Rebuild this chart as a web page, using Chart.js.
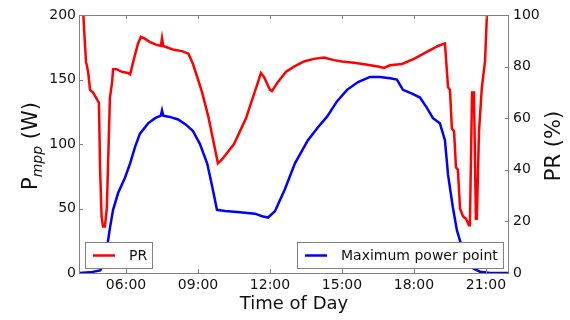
<!DOCTYPE html>
<html>
<head>
<meta charset="utf-8">
<script src="https://cdn.jsdelivr.net/npm/chart.js@4/dist/chart.umd.min.js"></script>
<style>
  html, body { margin: 0; padding: 0; background: #fff; }
  #wrap { width: 570px; height: 320px; }
</style>
</head>
<body>
<div id="wrap"><canvas id="chart"></canvas></div>
<script>
// time of day in decimal hours
const mppHours = [4.04, 4.5, 4.92, 5.04, 5.21, 5.33, 5.46, 5.67, 5.96, 6.17, 6.38, 6.58, 6.92, 7.21, 7.45, 7.5, 7.55, 7.83, 8.17, 8.5, 8.79, 9.08, 9.38, 9.58, 9.79, 10.12, 10.75, 11.37, 11.67, 11.92, 12.21, 12.62, 13.04, 13.58, 14.0, 14.37, 14.79, 15.21, 15.67, 16.17, 16.58, 17.0, 17.29, 17.54, 17.92, 18.25, 18.54, 18.79, 19.08, 19.29, 19.42, 19.62, 19.79, 20.0, 20.21, 20.42, 20.75, 21.17, 21.96];
const mppWatts = [0, 0.5, 2, 6, 20, 35, 49, 62, 74, 85, 98, 108, 116, 120, 122, 126, 122, 121, 119, 115, 110, 100, 85, 68, 49, 48, 47, 46, 44, 43, 48, 65, 85, 103, 113, 121, 133, 142, 148, 152, 152, 151, 150, 142, 139, 136, 128, 120, 116, 103, 76, 51, 33, 20, 10, 4, 1, 0, 0];

const prHours = [4.17, 4.25, 4.33, 4.42, 4.5, 4.62, 4.75, 4.87, 4.92, 4.98, 5.04, 5.12, 5.2, 5.29, 5.33, 5.42, 5.46, 5.6, 5.83, 6.08, 6.17, 6.33, 6.5, 6.62, 6.75, 7.0, 7.25, 7.45, 7.5, 7.55, 8.0, 8.33, 8.6, 8.79, 9.0, 9.17, 9.42, 9.62, 9.83, 10.0, 10.25, 10.5, 10.75, 11.0, 11.25, 11.5, 11.62, 11.75, 12.0, 12.08, 12.33, 12.67, 13.0, 13.42, 13.83, 14.25, 14.67, 15.0, 15.5, 16.0, 16.5, 16.75, 17.0, 17.5, 18.0, 18.5, 19.0, 19.29, 19.42, 19.5, 19.58, 19.67, 19.75, 19.83, 19.92, 20.04, 20.17, 20.29, 20.33, 20.42, 20.5, 20.58, 20.62, 20.71, 20.83, 20.96, 21.04, 21.12];
const prPercent = [110, 95, 82, 78, 71, 70, 68, 66, 40, 22, 18, 18, 25, 55, 68, 74, 79, 79, 78, 77.5, 77, 83, 89, 91.5, 91, 89.5, 88.5, 88, 91, 88, 86.5, 86, 85, 81, 75, 70, 61, 52, 42.5, 44, 47, 50, 55, 60, 67, 74, 77.5, 76, 71, 70.5, 74, 78, 80, 82, 83, 83.5, 82.5, 82, 81.5, 80.8, 80, 79.5, 80.5, 81, 83, 85.5, 88, 89, 72, 71, 56, 55, 41, 40, 25, 22, 21, 18.5, 18.5, 70, 70, 21, 21, 55, 72, 82, 100, 110];

const timeTicks = [6, 9, 12, 15, 18, 21];
const wattTicks = [0, 50, 100, 150, 200];
const percentTicks = [0, 20, 40, 60, 80, 100];

const FONT = 'DejaVu Sans';
const FRAME = '#808080';

const toPoints = (xs, ys) => xs.map((x, i) => ({ x: x, y: ys[i] }));

// frame, inward ticks and the two separate legend boxes
const decorations = {
  id: 'decorations',
  afterDatasetsDraw(chart) {
    const ctx = chart.ctx;
    const a = chart.chartArea;
    const { x, y, yR } = chart.scales;
    const len = 4;
    ctx.save();
    ctx.strokeStyle = FRAME;
    ctx.lineWidth = 1;
    ctx.beginPath();
    timeTicks.forEach(v => {
      const px = Math.round(x.getPixelForValue(v)) + 0.5;
      ctx.moveTo(px, a.bottom); ctx.lineTo(px, a.bottom - len);
      ctx.moveTo(px, a.top); ctx.lineTo(px, a.top + len);
    });
    wattTicks.forEach(v => {
      const py = Math.round(y.getPixelForValue(v)) + 0.5;
      ctx.moveTo(a.left, py); ctx.lineTo(a.left + len, py);
    });
    percentTicks.forEach(v => {
      const py = Math.round(yR.getPixelForValue(v)) + 0.5;
      ctx.moveTo(a.right, py); ctx.lineTo(a.right - len, py);
    });
    ctx.stroke();
    ctx.strokeRect(Math.round(a.left) + 0.5, Math.round(a.top) + 0.5,
      Math.round(a.right - a.left) - 1, Math.round(a.bottom - a.top));

    const box = (left, right, label, color) => {
      const top = a.bottom - 31, h = 26;
      ctx.fillStyle = '#fff';
      ctx.fillRect(left, top, right - left, h);
      ctx.strokeStyle = FRAME;
      ctx.strokeRect(left + 0.5, top + 0.5, right - left, h);
      ctx.strokeStyle = color;
      ctx.lineWidth = 2.5;
      ctx.beginPath();
      ctx.moveTo(left + 8, top + 13.5);
      ctx.lineTo(left + 30, top + 13.5);
      ctx.stroke();
      ctx.lineWidth = 1;
      ctx.fillStyle = '#111';
      ctx.font = '14px "' + FONT + '"';
      ctx.textBaseline = 'middle';
      ctx.textAlign = 'left';
      ctx.fillText(label, left + 44, top + 14);
    };
    box(a.left + 6, a.left + 73, chart.data.datasets[0].label, '#ff0000');
    box(a.left + 218, a.right - 6, chart.data.datasets[1].label, '#0000ff');
    ctx.restore();
  },
  afterDraw(chart) {
    const ctx = chart.ctx;
    const a = chart.chartArea;
    const midY = (a.top + a.bottom) / 2 + 2;
    ctx.save();
    ctx.fillStyle = '#111';
    ctx.textBaseline = 'alphabetic';

    // x axis title
    ctx.font = '18px "' + FONT + '"';
    ctx.textAlign = 'center';
    ctx.fillText('Time of Day', (a.left + a.right) / 2, 309);

    // left title: P with italic subscript mpp
    const big = '21px "' + FONT + '"';
    const small = 'italic 14px "' + FONT + '"';
    ctx.font = big;
    const wP = ctx.measureText('P').width;
    const wW = ctx.measureText(' (W)').width;
    ctx.font = small;
    const wS = ctx.measureText('mpp').width;
    const total = wP + wS + wW;
    ctx.translate(37, midY);
    ctx.rotate(-Math.PI / 2);
    ctx.textAlign = 'left';
    let cx = -total / 2;
    ctx.font = big; ctx.fillText('P', cx, 0); cx += wP;
    ctx.font = small; ctx.fillText('mpp', cx, 5); cx += wS;
    ctx.font = big; ctx.fillText(' (W)', cx, 0);
    ctx.setTransform(1, 0, 0, 1, 0, 0);

    // right title
    ctx.translate(560, midY);
    ctx.rotate(-Math.PI / 2);
    ctx.textAlign = 'center';
    ctx.font = big;
    ctx.fillText('PR (%)', 0, 0);
    ctx.restore();
  }
};

const tickFont = { family: FONT, size: 14 };

new Chart(document.getElementById('chart'), {
  type: 'line',
  data: {
    datasets: [
      {
        label: 'PR',
        data: toPoints(prHours, prPercent),
        yAxisID: 'yR',
        borderColor: '#ff0000',
        borderWidth: 2.5,
        pointRadius: 0,
        tension: 0
      },
      {
        label: 'Maximum power point',
        data: toPoints(mppHours, mppWatts),
        yAxisID: 'y',
        borderColor: '#0000ff',
        borderWidth: 2.5,
        pointRadius: 0,
        tension: 0
      }
    ]
  },
  options: {
    responsive: true,
    maintainAspectRatio: false,
    animation: false,
    layout: { padding: { top: 15, left: 0, right: 0, bottom: 0 } },
    plugins: { legend: { display: false }, tooltip: { enabled: false } },
    scales: {
      x: {
        type: 'linear',
        min: 4.04,
        max: 21.96,
        afterBuildTicks: s => { s.ticks = timeTicks.map(v => ({ value: v })); },
        afterFit: s => { s.height = 47; },
        grid: { display: false, drawTicks: false },
        border: { display: false },
        ticks: {
          font: tickFont,
          color: '#111',
          padding: 4,
          maxRotation: 0,
          callback: v => String(v).padStart(2, '0') + ':00'
        }
      },
      y: {
        position: 'left',
        min: 0,
        max: 200,
        afterBuildTicks: s => { s.ticks = wattTicks.map(v => ({ value: v })); },
        afterFit: s => { s.width = 79; },
        grid: { display: false, drawTicks: false },
        border: { display: false },
        ticks: { font: tickFont, color: '#111', padding: 3 }
      },
      yR: {
        position: 'right',
        min: 0,
        max: 100,
        afterBuildTicks: s => { s.ticks = percentTicks.map(v => ({ value: v })); },
        afterFit: s => { s.width = 61; },
        grid: { display: false, drawTicks: false },
        border: { display: false },
        ticks: { font: tickFont, color: '#111', padding: 4 }
      }
    }
  },
  plugins: [decorations]
});
</script>
</body>
</html>
